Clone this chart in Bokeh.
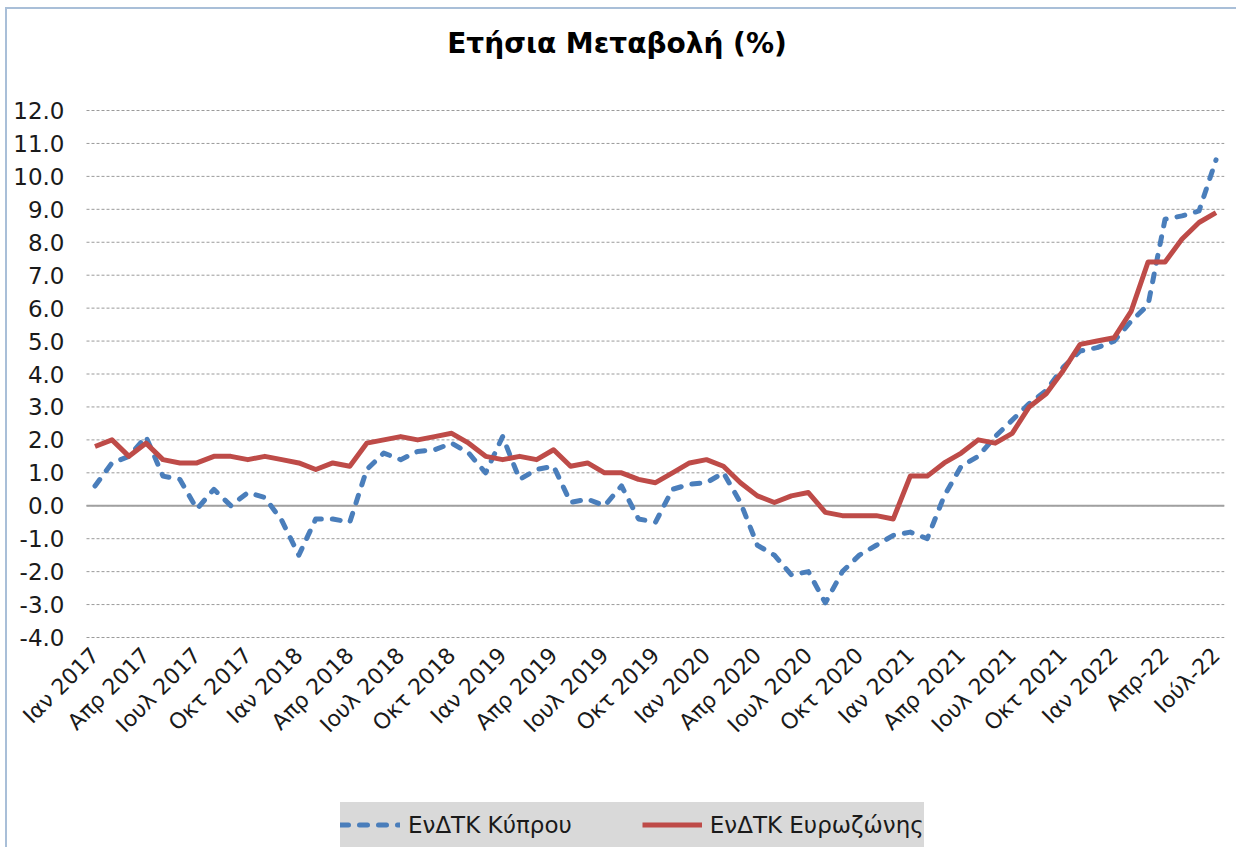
import math
from bokeh.plotting import figure
from bokeh.models import (ColumnDataSource, FixedTicker, NumeralTickFormatter,
                          Legend, LegendItem, Range1d, Title)
from bokeh.embed import file_html
from bokeh.resources import INLINE

# ---------------- data ----------------
months = [f"{m}-{y}" for y in range(2017, 2023) for m in range(1, 13)][:67]

cyprus = [
    0.6, 1.3, 1.5, 2.1, 0.9, 0.8, -0.1, 0.5, 0.0, 0.4, 0.25, -0.45,
    -1.5, -0.4, -0.4, -0.5, 1.1, 1.6, 1.4, 1.65, 1.7, 1.9, 1.6, 1.0,
    2.1, 0.8, 1.1, 1.2, 0.1, 0.2, 0.0, 0.6, -0.4, -0.5, 0.5, 0.65,
    0.7, 1.0, 0.1, -1.2, -1.5, -2.1, -2.0, -2.95, -2.0, -1.5, -1.2, -0.9,
    -0.8, -1.0, 0.3, 1.2, 1.5, 2.1, 2.6, 3.1, 3.5, 4.2, 4.7, 4.8,
    5.0, 5.6, 6.1, 8.7, 8.8, 8.95, 10.5,
]

eurozone = [
    1.8, 2.0, 1.5, 1.9, 1.4, 1.3, 1.3, 1.5, 1.5, 1.4, 1.5, 1.4,
    1.3, 1.1, 1.3, 1.2, 1.9, 2.0, 2.1, 2.0, 2.1, 2.2, 1.9, 1.5,
    1.4, 1.5, 1.4, 1.7, 1.2, 1.3, 1.0, 1.0, 0.8, 0.7, 1.0, 1.3,
    1.4, 1.2, 0.7, 0.3, 0.1, 0.3, 0.4, -0.2, -0.3, -0.3, -0.3, -0.4,
    0.9, 0.9, 1.3, 1.6, 2.0, 1.9, 2.2, 3.0, 3.4, 4.1, 4.9, 5.0,
    5.1, 5.9, 7.4, 7.4, 8.1, 8.6, 8.9,
]

tick_labels = [
    "Ιαν 2017", "Απρ 2017", "Ιουλ 2017", "Οκτ 2017",
    "Ιαν 2018", "Απρ 2018", "Ιουλ 2018", "Οκτ 2018",
    "Ιαν 2019", "Απρ 2019", "Ιουλ 2019", "Οκτ 2019",
    "Ιαν 2020", "Απρ 2020", "Ιουλ 2020", "Οκτ 2020",
    "Ιαν 2021", "Απρ 2021", "Ιουλ 2021", "Οκτ 2021",
    "Ιαν 2022", "Απρ-22", "Ιούλ-22",
]

series_names = ["ΕνΔΤΚ Κύπρου", "ΕνΔΤΚ Ευρωζώνης"]
title_text = "Ετήσια Μεταβολή (%)"
y_ticks = list(range(-4, 13))
y_min_tick, y_max_tick = -4, 12

# ---------------- geometry ----------------
FONT = "DejaVu Sans"
N = len(months)
PLOT_W = 1138            # pixel width of the category area
LEFT_PX = 77             # room left of the category area for the value labels
AXIS_PX = 527            # pixel height spanned by -4 .. 12
TOP_PX = 16              # room above 12 so that its label is not cut
EXTRA_PX = 210           # room under -4 for the category labels and the legend
px_per_cat = PLOT_W / N
x_lo, x_hi = -0.5, N - 0.5
x_start = x_lo - LEFT_PX / px_per_cat
px_per_unit = AXIS_PX / (y_max_tick - y_min_tick)
y_start = y_min_tick - EXTRA_PX / px_per_unit
y_end = y_max_tick + TOP_PX / px_per_unit

idx = list(range(N))
src = ColumnDataSource(dict(i=idx, cy=cyprus, ez=eurozone, m=months))
grid_src = ColumnDataSource(dict(x0=[x_lo] * len(y_ticks), x1=[x_hi] * len(y_ticks),
                                 y=[t for t in y_ticks]))
zero_src = ColumnDataSource(dict(x0=[x_lo], x1=[x_hi], y=[0]))

p = figure(frame_width=PLOT_W + LEFT_PX, frame_height=AXIS_PX + EXTRA_PX + TOP_PX,
           output_backend="svg", toolbar_location=None,
           x_range=Range1d(x_start, x_hi), y_range=Range1d(y_start, y_end),
           min_border_left=2, min_border_right=12, min_border_top=101 - TOP_PX,
           min_border_bottom=0)
p.outline_line_color = None
p.background_fill_color = "white"
p.border_fill_color = "white"
p.styles = {"border-left": "2px solid #a9bfd8", "border-top": "2px solid #a9bfd8",
            "margin-left": "5px", "margin-top": "7px"}

# real title (outer) + spacer title (inner, next to the frame)
p.title.text = title_text
p.title.align = "center"
p.title.offset = 9
p.title.text_font = FONT
p.title.text_font_style = "bold"
p.title.text_font_size = "28px"
p.title.text_color = "#000000"
p.title.standoff = 0
p.add_layout(Title(text=" ", text_font_size="10px", standoff=38 - TOP_PX), "above")

# value axis drawn at the left edge of the category area
p.yaxis.fixed_location = x_lo
p.yaxis.ticker = FixedTicker(ticks=y_ticks)
p.yaxis.formatter = NumeralTickFormatter(format="0.0")
p.yaxis.axis_line_color = None
p.yaxis.major_tick_line_color = None
p.yaxis.minor_tick_line_color = None
p.yaxis.major_label_text_font = FONT
p.yaxis.major_label_text_font_size = "23px"
p.yaxis.major_label_text_color = "#1a1a1a"
p.yaxis.major_label_standoff = 16

# category axis drawn at -4
tick_pos = list(range(0, N, 3))
p.xaxis.fixed_location = y_min_tick
p.xaxis.ticker = FixedTicker(ticks=tick_pos)
p.xaxis.major_label_overrides = {t: lab for t, lab in zip(tick_pos, tick_labels)}
p.xaxis.major_label_orientation = math.pi / 4
p.xaxis.axis_line_color = None
p.xaxis.major_tick_line_color = None
p.xaxis.minor_tick_line_color = None
p.xaxis.major_label_text_font = FONT
p.xaxis.major_label_text_font_size = "22px"
p.xaxis.major_label_text_color = "#1a1a1a"
p.xaxis.major_label_standoff = 8

p.xgrid.grid_line_color = None
p.ygrid.grid_line_color = None

# horizontal gridlines limited to the category area
p.segment(x0="x0", x1="x1", y0="y", y1="y", source=grid_src,
          line_color="#9a9a9a", line_dash="3 2", line_width=1)
p.segment(x0="x0", x1="x1", y0="y", y1="y", source=zero_src,
          line_color="#a0a0a0", line_width=2)

r_cy = p.line("i", "cy", source=src, line_color="#4a7ebb", line_width=5,
              line_dash="8 11", line_cap="round", line_join="round")
r_ez = p.line("i", "ez", source=src, line_color="#be4b48", line_width=5,
              line_join="round")

legend = Legend(items=[LegendItem(label=series_names[0], renderers=[r_cy]),
                       LegendItem(label=series_names[1], renderers=[r_ez])],
                orientation="horizontal", location=(331, 0))
legend.background_fill_color = "#d9d9d9"
legend.background_fill_alpha = 1.0
legend.border_line_color = None
legend.label_text_font = FONT
legend.label_text_font_size = "23px"
legend.label_text_color = "#1a1a1a"
legend.glyph_width = 60
legend.glyph_height = 45
legend.label_height = 45
legend.label_standoff = 8
legend.spacing = 70
legend.padding = 0
legend.margin = 0
p.add_layout(legend, "center")

open("out.html", "w").write(file_html(p, INLINE))
